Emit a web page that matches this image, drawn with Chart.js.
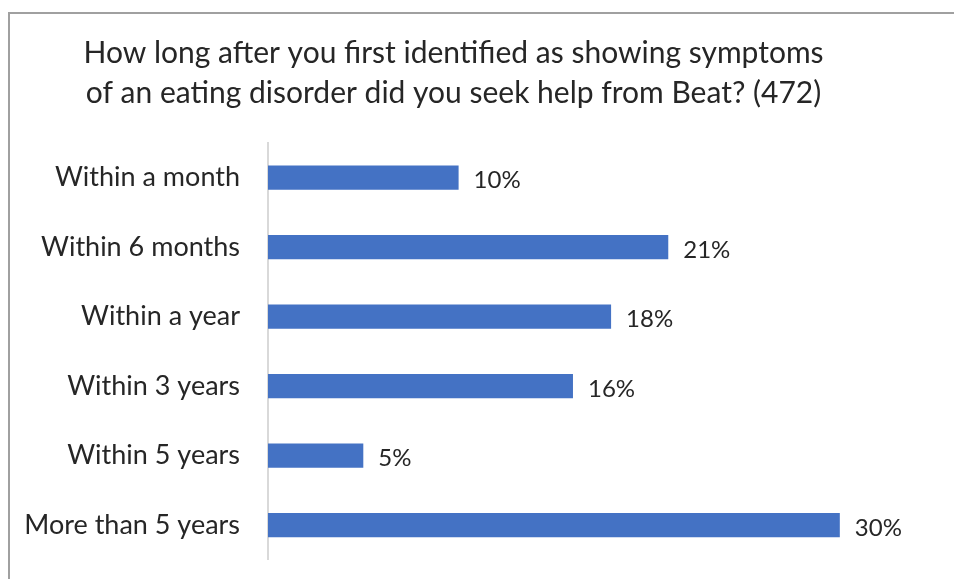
<!DOCTYPE html>
<html>
<head>
<meta charset="utf-8">
<script src="https://cdn.jsdelivr.net/npm/chart.js@4.4.1/dist/chart.umd.min.js"></script>
<style>
  html, body { margin: 0; padding: 0; background: #fff; overflow: hidden; }
  #frame {
    position: absolute; left: 8px; top: 12px;
    width: 956px; height: 600px;
    border: 2px solid #a0a0a0;
  }
  #chart { display: block; }
</style>
</head>
<body>
<div id="frame"><canvas id="chart" width="956" height="590"></canvas></div>
<script>
const TITLE_LINES = [
  'How long after you first identified as showing symptoms',
  'of an eating disorder did you seek help from Beat? (472)'
];
const CATEGORIES = [
  'Within a month',
  'Within 6 months',
  'Within a year',
  'Within 3 years',
  'Within 5 years',
  'More than 5 years'
];
const PERCENTS = [10, 21, 18, 16, 5, 30];

const FONT = 'Lato, "Open Sans", sans-serif';
const TEXT = '#262626';

// value labels drawn just past the end of each bar
const barLabels = {
  id: 'barLabels',
  afterDatasetsDraw(chart) {
    const { ctx } = chart;
    const meta = chart.getDatasetMeta(0);
    ctx.save();
    ctx.font = '24px ' + FONT;
    ctx.fillStyle = TEXT;
    ctx.textAlign = 'left';
    ctx.textBaseline = 'middle';
    meta.data.forEach((bar, i) => {
      ctx.fillText(PERCENTS[i] + '%', bar.x + 15, bar.y + 3);
    });
    ctx.restore();
  }
};

new Chart(document.getElementById('chart'), {
  type: 'bar',
  data: {
    labels: CATEGORIES,
    datasets: [{
      data: PERCENTS,
      backgroundColor: '#4472C4',
      categoryPercentage: 1,
      barPercentage: 0.35,
    }]
  },
  options: {
    indexAxis: 'y',
    responsive: false,
    animation: false,
    layout: { padding: { left: 0, right: 69, top: 0, bottom: 19 } },
    plugins: {
      legend: { display: false },
      tooltip: { enabled: false },
      title: {
        display: true,
        text: TITLE_LINES,
        color: TEXT,
        font: { family: FONT, size: 30, weight: 'normal', lineHeight: 1.333 },
        padding: { top: 19, bottom: 30 },
      },
    },
    scales: {
      x: { display: false, min: 0, max: 33 },
      y: {
        afterFit(scale) { scale.width = 258; },
        grid: { display: false, drawTicks: false },
        border: { display: true, color: '#d9d9d9', width: 2 },
        ticks: {
          color: TEXT,
          padding: 28,
          font: { family: FONT, size: 27 },
        },
      },
    },
  },
  plugins: [barLabels],
});
</script>
</body>
</html>
